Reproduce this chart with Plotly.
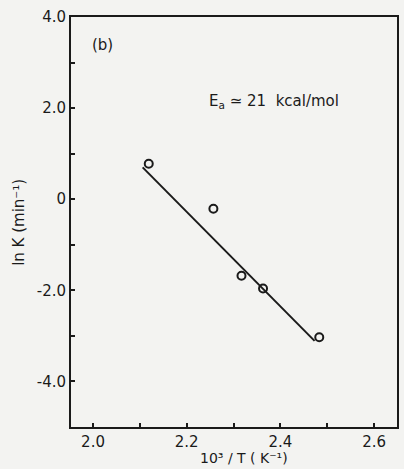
import plotly.graph_objects as go

# Arrhenius data: 10^3/T (K^-1) vs ln K (min^-1)
inv_T = [2.119, 2.257, 2.317, 2.363, 2.483]
ln_k = [0.78, -0.21, -1.68, -1.96, -3.03]

# Fitted Arrhenius line (end points)
fit_x = [2.106, 2.473]
fit_y = [0.70, -3.11]

x_ticks = [2.0, 2.2, 2.4, 2.6]
x_labels = ["2.0", "2.2", "2.4", "2.6"]
y_ticks = [4, 2, 0, -2, -4]
y_labels = ["4.0", "2.0", "0", "-2.0", "-4.0"]

ink = "#1a1a1a"
font = "DejaVu Sans"

fig = go.Figure()
fig.add_trace(go.Scatter(x=fit_x, y=fit_y, mode="lines",
                         line=dict(color=ink, width=2), showlegend=False))
fig.add_trace(go.Scatter(x=inv_T, y=ln_k, mode="markers",
                         marker=dict(symbol="circle-open", size=8,
                                     color=ink, line=dict(width=2, color=ink)),
                         showlegend=False))

axis_common = dict(showline=True, linecolor=ink, linewidth=2, mirror=True,
                   ticks="inside", ticklen=4, tickwidth=1.5, tickcolor=ink,
                   showgrid=False, zeroline=False,
                   tickfont=dict(family=font, size=15, color=ink))

fig.update_xaxes(range=[1.953, 2.649], tickmode="array", tickvals=x_ticks,
                 ticktext=x_labels, ticklabelstandoff=0,
                 minor=dict(tick0=2.0, dtick=0.1, ticks="inside", ticklen=4,
                            tickwidth=1.5, tickcolor=ink, showgrid=False),
                 **axis_common)
fig.update_yaxes(range=[-5, 4], tickmode="array", tickvals=y_ticks,
                 ticktext=y_labels, ticklabelstandoff=0,
                 minor=dict(tick0=0, dtick=1, ticks="inside", ticklen=4,
                            tickwidth=1.5, tickcolor=ink, showgrid=False),
                 **axis_common)

fig.add_annotation(x=0.53, y=-0.0756, xref="paper", yref="paper",
                   text="10³ / T ( K⁻¹)", showarrow=False,
                   font=dict(family=font, size=14, color=ink),
                   xanchor="center", yanchor="middle")
fig.add_annotation(x=-0.16, y=0.5, xref="paper", yref="paper",
                   text="ln K (min⁻¹)", showarrow=False, textangle=-90,
                   font=dict(family=font, size=15, color=ink),
                   xanchor="center", yanchor="middle")
fig.add_annotation(x=1.994, y=3.38, xref="x", yref="y", text="(b)",
                   showarrow=False, xanchor="left", yanchor="middle",
                   font=dict(family=font, size=15, color=ink))
fig.add_annotation(x=2.244, y=2.15, xref="x", yref="y",
                   text="E<sub>a</sub> ≃ 21  kcal/mol",
                   showarrow=False, xanchor="left", yanchor="middle",
                   font=dict(family=font, size=15, color=ink))

fig.update_layout(width=404, height=469,
                  margin=dict(l=71, r=5, t=17, b=42),
                  paper_bgcolor="#f3f3f1", plot_bgcolor="#f3f3f1")

fig.write_html("out.html")
